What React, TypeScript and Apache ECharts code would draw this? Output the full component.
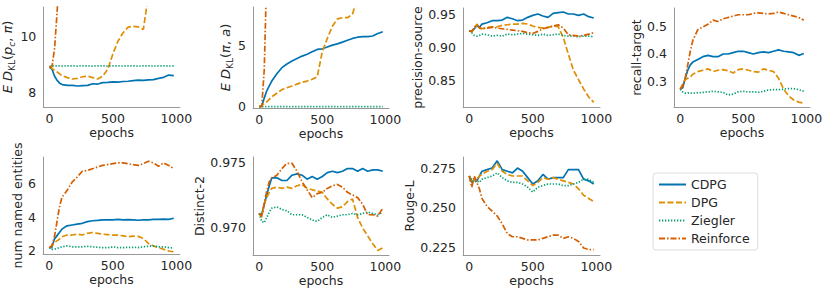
import React, { useEffect, useRef } from "react";
import * as echarts from "echarts";

const epochs = [0, 20, 40, 60, 80, 100, 140, 180, 220, 260, 300, 340, 380, 420, 460, 500, 540, 580, 620, 660, 700, 740, 780, 820, 860, 900, 940, 980];
const xTicks = [0, 500, 1000];

// E D_KL(p_c, pi)
const kl1Cdpg = [8.92, 8.85, 8.6, 8.45, 8.35, 8.3, 8.27, 8.27, 8.25, 8.26, 8.27, 8.33, 8.32, 8.37, 8.38, 8.4, 8.39, 8.41, 8.42, 8.44, 8.46, 8.45, 8.47, 8.48, 8.52, 8.56, 8.64, 8.62];
const kl1Dpg = [8.92, 8.88, 8.8, 8.75, 8.68, 8.62, 8.55, 8.5, 8.52, 8.58, 8.6, 8.55, 8.5, 8.6, 8.85, 9.4, 9.85, 10.15, 10.35, 10.38, 10.36, 10.27, 11.5, 12.5, null, null, null, null];
const kl1Zieg = [8.95, 8.97, 8.96, 8.97, 8.97, 8.96, 8.97, 8.97, 8.96, 8.97, 8.97, 8.96, 8.97, 8.97, 8.96, 8.97, 8.97, 8.96, 8.97, 8.97, 8.96, 8.97, 8.97, 8.96, 8.97, 8.97, 8.96, 8.97];
const kl1Rein = [8.92, 8.95, 9.6, 10.9, 12.5, null, null, null, null, null, null, null, null, null, null, null, null, null, null, null, null, null, null, null, null, null, null, null];

// E D_KL(pi, a)
const kl2Cdpg = [0, 0.05, 0.7, 1.3, 1.7, 2.1, 2.7, 3.2, 3.5, 3.75, 3.95, 4.15, 4.3, 4.5, 4.7, 4.75, 4.9, 5.05, 5.15, 5.3, 5.45, 5.6, 5.7, 5.75, 5.75, 5.8, 6.0, 6.15];
const kl2Dpg = [0, 0.05, 0.3, 0.4, 0.6, 0.8, 1.1, 1.4, 1.55, 1.7, 1.85, 2.0, 2.1, 2.25, 2.45, 4.5, 5.6, 6.6, 7.2, 7.3, 7.3, 7.6, 9.0, null, null, null, null, null];
const kl2Zieg = [0, 0, 0, 0, 0, 0, 0, 0, 0, 0, 0, 0, 0, 0, 0, 0, 0, 0, 0, 0, 0, 0, 0, 0, 0, 0, 0, 0];
const kl2Rein = [0, 0, 3.0, 11, null, null, null, null, null, null, null, null, null, null, null, null, null, null, null, null, null, null, null, null, null, null, null, null];

// precision-source
const psCdpg = [0.925, 0.924, 0.928, 0.933, 0.93, 0.935, 0.937, 0.94, 0.94, 0.941, 0.945, 0.943, 0.94, 0.941, 0.945, 0.948, 0.95, 0.947, 0.945, 0.951, 0.952, 0.953, 0.95, 0.95, 0.948, 0.95, 0.946, 0.944];
const psDpg = [0.925, 0.923, 0.928, 0.935, 0.93, 0.928, 0.93, 0.931, 0.931, 0.933, 0.934, 0.935, 0.935, 0.936, 0.935, 0.932, 0.93, 0.929, 0.93, 0.932, 0.931, 0.915, 0.89, 0.866, 0.852, 0.838, 0.826, 0.818];
const psZieg = [0.925, 0.922, 0.918, 0.917, 0.918, 0.92, 0.919, 0.917, 0.918, 0.917, 0.92, 0.919, 0.92, 0.921, 0.92, 0.919, 0.918, 0.92, 0.918, 0.919, 0.92, 0.918, 0.917, 0.917, 0.916, 0.917, 0.917, 0.916];
const psRein = [0.925, 0.924, 0.93, 0.934, 0.929, 0.928, 0.929, 0.93, 0.929, 0.928, 0.927, 0.926, 0.925, 0.924, 0.922, 0.921, 0.924, 0.928, 0.93, 0.932, 0.934, 0.929, 0.919, 0.918, 0.917, 0.918, 0.92, 0.922];

// recall-target
const rtCdpg = [0.27, 0.275, 0.31, 0.34, 0.36, 0.37, 0.38, 0.39, 0.395, 0.39, 0.39, 0.4, 0.4, 0.405, 0.41, 0.41, 0.405, 0.4, 0.405, 0.408, 0.405, 0.41, 0.415, 0.41, 0.408, 0.405, 0.395, 0.402];
const rtDpg = [0.27, 0.29, 0.305, 0.31, 0.315, 0.325, 0.335, 0.34, 0.345, 0.335, 0.34, 0.342, 0.338, 0.33, 0.342, 0.345, 0.34, 0.335, 0.333, 0.345, 0.34, 0.335, 0.31, 0.27, 0.245, 0.23, 0.222, 0.218];
const rtZieg = [0.27, 0.26, 0.255, 0.256, 0.255, 0.255, 0.257, 0.258, 0.26, 0.262, 0.26, 0.258, 0.248, 0.252, 0.26, 0.262, 0.26, 0.26, 0.258, 0.262, 0.267, 0.268, 0.268, 0.27, 0.272, 0.272, 0.268, 0.262];
const rtRein = [0.27, 0.28, 0.31, 0.36, 0.41, 0.45, 0.49, 0.5, 0.51, 0.525, 0.52, 0.53, 0.535, 0.54, 0.545, 0.545, 0.545, 0.55, 0.552, 0.55, 0.548, 0.55, 0.555, 0.55, 0.545, 0.54, 0.535, 0.525];

// num named entities
const neCdpg = [2.2, 2.2, 2.7, 2.9, 3.1, 3.3, 3.5, 3.55, 3.6, 3.65, 3.75, 3.8, 3.82, 3.85, 3.85, 3.85, 3.88, 3.85, 3.87, 3.85, 3.83, 3.85, 3.85, 3.88, 3.88, 3.9, 3.88, 3.95];
const neDpg = [2.2, 2.3, 2.5, 2.6, 2.7, 2.85, 2.95, 2.95, 3.0, 2.95, 3.05, 3.1, 3.05, 3.0, 2.98, 2.95, 2.95, 2.9, 2.85, 2.88, 2.87, 2.75, 2.45, 2.3, 2.2, 2.1, 2.0, 1.95];
const neZieg = [2.2, 2.1, 2.1, 2.15, 2.2, 2.25, 2.3, 2.25, 2.25, 2.25, 2.28, 2.25, 2.22, 2.2, 2.2, 2.25, 2.2, 2.2, 2.22, 2.22, 2.2, 2.25, 2.28, 2.3, 2.25, 2.25, 2.2, 2.18];
const neRein = [2.2, 2.3, 2.8, 3.7, 4.6, 5.2, 5.6, 6.1, 6.4, 6.75, 6.8, 6.9, 7.0, 7.1, 7.15, 7.2, 7.25, 7.25, 7.2, 7.15, 7.1, 7.2, 7.35, 7.25, 7.05, 7.25, 7.1, 6.9];

// Distinct-2
const d2Cdpg = [0.9711, 0.971, 0.9718, 0.9725, 0.9732, 0.9738, 0.9738, 0.9736, 0.9736, 0.974, 0.9741, 0.974, 0.9737, 0.9739, 0.9737, 0.9739, 0.9742, 0.9743, 0.9742, 0.9743, 0.9745, 0.9745, 0.9743, 0.9745, 0.9743, 0.9744, 0.9744, 0.9743];
const d2Dpg = [0.9711, 0.9708, 0.9718, 0.9723, 0.9727, 0.973, 0.9731, 0.973, 0.9731, 0.973, 0.9732, 0.9733, 0.973, 0.9729, 0.9728, 0.9727, 0.9722, 0.9718, 0.9715, 0.9716, 0.972, 0.9722, 0.9708, 0.97, 0.9694, 0.9688, 0.9683, 0.9685];
const d2Zieg = [0.9711, 0.9705, 0.9704, 0.9708, 0.9712, 0.9715, 0.9716, 0.9714, 0.9713, 0.971, 0.971, 0.971, 0.9708, 0.9706, 0.9705, 0.9708, 0.971, 0.9708, 0.9709, 0.971, 0.971, 0.9711, 0.971, 0.9711, 0.9712, 0.9711, 0.971, 0.9712];
const d2Rein = [0.9711, 0.9709, 0.9718, 0.9728, 0.9735, 0.9738, 0.974, 0.9745, 0.9749, 0.9749, 0.9743, 0.9735, 0.9729, 0.9723, 0.9726, 0.9727, 0.973, 0.9732, 0.9733, 0.9731, 0.9727, 0.9725, 0.9723, 0.9718, 0.971, 0.971, 0.9709, 0.9715];

// Rouge-L
const rlCdpg = [0.27, 0.266, 0.268, 0.267, 0.27, 0.273, 0.274, 0.275, 0.2795, 0.274, 0.273, 0.272, 0.275, 0.273, 0.269, 0.265, 0.267, 0.271, 0.268, 0.269, 0.269, 0.269, 0.274, 0.274, 0.274, 0.268, 0.267, 0.265];
const rlDpg = [0.27, 0.265, 0.268, 0.268, 0.27, 0.271, 0.273, 0.274, 0.278, 0.273, 0.271, 0.27, 0.27, 0.27, 0.267, 0.264, 0.266, 0.269, 0.268, 0.269, 0.268, 0.267, 0.266, 0.265, 0.262, 0.258, 0.256, 0.254];
const rlZieg = [0.27, 0.268, 0.266, 0.267, 0.266, 0.268, 0.269, 0.27, 0.272, 0.269, 0.267, 0.266, 0.266, 0.265, 0.263, 0.26, 0.263, 0.264, 0.265, 0.265, 0.265, 0.264, 0.264, 0.265, 0.266, 0.268, 0.268, 0.266];
const rlRein = [0.27, 0.263, 0.27, 0.266, 0.262, 0.256, 0.251, 0.248, 0.245, 0.24, 0.234, 0.232, 0.232, 0.231, 0.23, 0.23, 0.23, 0.231, 0.232, 0.233, 0.233, 0.231, 0.232, 0.231, 0.229, 0.225, 0.224, 0.224];

const methods = ["CDPG", "DPG", "Ziegler", "Reinforce"];

const FONT = "DejaVu Sans";
const TXT = "#262626";
const COLORS: Record<string, string> = { CDPG: "#0173B2", DPG: "#DE8F05", Ziegler: "#029E73", Reinforce: "#D55E00" };
const DASH: Record<string, any> = { CDPG: "solid", DPG: [6, 2.5], Ziegler: [1.3, 1.7], Reinforce: [6, 2, 1.5, 2] };

type Panel = {
  rect: [number, number, number, number];
  name: string;
  rich?: boolean;
  nameGap: number;
  min: number;
  max: number;
  ticks: number[];
  digits: number;
  series: (number | null)[][];
};

const panels: Panel[] = [
  { rect: [43, 7, 137, 100], name: "{i|E} {i|D}{s|KL}{n|(}{i|p}{si|c}{n|, }{i|π}{n|)}", rich: true, nameGap: 22, min: 7.5, max: 11.07, ticks: [8, 10], digits: 0, series: [kl1Cdpg, kl1Dpg, kl1Zieg, kl1Rein] },
  { rect: [253, 7, 136, 101], name: "{i|E} {i|D}{s|KL}{n|(}{i|π}{n|, }{i|a}{n|)}", rich: true, nameGap: 13, min: -0.11, max: 8.18, ticks: [0, 5], digits: 0, series: [kl2Cdpg, kl2Dpg, kl2Zieg, kl2Rein] },
  { rect: [463, 8, 137, 99], name: "precision-source", nameGap: 33, min: 0.811, max: 0.959, ticks: [0.85, 0.9, 0.95], digits: 2, series: [psCdpg, psDpg, psZieg, psRein] },
  { rect: [674, 8, 136, 99], name: "recall-target", nameGap: 27, min: 0.204, max: 0.57, ticks: [0.3, 0.4, 0.5], digits: 1, series: [rtCdpg, rtDpg, rtZieg, rtRein] },
  { rect: [43, 157, 137, 97], name: "num named entities", nameGap: 13, min: 1.82, max: 7.6, ticks: [2, 4, 6], digits: 0, series: [neCdpg, neDpg, neZieg, neRein] },
  { rect: [253, 157, 136, 98], name: "Distinct-2", nameGap: 39, min: 0.96795, max: 0.97538, ticks: [0.97, 0.975], digits: 3, series: [d2Cdpg, d2Dpg, d2Zieg, d2Rein] },
  { rect: [463, 157, 137, 98], name: "Rouge-L", nameGap: 43, min: 0.2206, max: 0.2819, ticks: [0.225, 0.25, 0.275], digits: 3, series: [rlCdpg, rlDpg, rlZieg, rlRein] },
];

const FS = 12.5;
const spine = { show: true, onZero: false, lineStyle: { color: "#999", width: 1 } };

export default function App() {
  const ref = useRef<HTMLDivElement>(null);
  useEffect(() => {
    if (!ref.current) return;
    const chart = echarts.init(ref.current, null, { renderer: "svg" });
    const grid = panels.map((p) => ({ left: p.rect[0], top: p.rect[1], width: p.rect[2], height: p.rect[3], containLabel: false }));
    const xAxis = panels.map((p, gi) => ({
      type: "value",
      gridIndex: gi,
      min: -49,
      max: 1029,
      axisLine: spine,
      axisTick: { show: false },
      splitLine: { show: false },
      axisLabel: { customValues: xTicks, formatter: (v: number) => String(v), color: TXT, fontSize: FS, fontFamily: FONT, margin: 5 },
      name: "epochs",
      nameLocation: "middle",
      nameGap: 17,
      nameTextStyle: { color: TXT, fontSize: FS, fontFamily: FONT },
    }));
    const rich = {
      i: { fontStyle: "italic", fontSize: 13, fontFamily: FONT, color: TXT, lineHeight: 18, verticalAlign: "middle" },
      n: { fontSize: 13, fontFamily: FONT, color: TXT, lineHeight: 18, verticalAlign: "middle" },
      s: { fontSize: 9, fontFamily: FONT, color: TXT, lineHeight: 18, verticalAlign: "bottom" },
      si: { fontSize: 9, fontStyle: "italic", fontFamily: FONT, color: TXT, lineHeight: 18, verticalAlign: "bottom" },
    };
    const yAxis = panels.map((p, gi) => ({
      type: "value",
      gridIndex: gi,
      min: p.min,
      max: p.max,
      axisLine: spine,
      axisTick: { show: false },
      splitLine: { show: false },
      axisLabel: {
        customValues: p.ticks,
        formatter: (v: number) => v.toFixed(p.digits),
        color: TXT,
        fontSize: FS,
        fontFamily: FONT,
        margin: 7,
      },
      name: p.name,
      nameLocation: "middle",
      nameRotate: 90,
      nameGap: p.nameGap,
      nameTextStyle: p.rich
        ? { color: TXT, fontSize: 13, fontFamily: FONT, rich }
        : { color: TXT, fontSize: FS, fontFamily: FONT },
    }));
    const series: any[] = [];
    panels.forEach((p, gi) => {
      p.series.forEach((vals, k) => {
        const m = methods[k];
        series.push({
          name: m,
          type: "line",
          xAxisIndex: gi,
          yAxisIndex: gi,
          data: epochs.map((e, i) => [e, vals[i]]),
          showSymbol: false,
          symbol: "none",
          clip: true,
          silent: true,
          connectNulls: false,
          color: COLORS[m],
          lineStyle: { color: COLORS[m], width: 1.7, type: DASH[m] },
        });
      });
    });
    chart.setOption({
      animation: false,
      backgroundColor: "#fff",
      grid,
      xAxis,
      yAxis,
      series,
      legend: {
        data: methods,
        orient: "vertical",
        left: 653,
        top: 173,
        itemWidth: 27,
        itemHeight: 14,
        itemGap: 5,
        padding: [5, 8, 5, 5],
        borderColor: "#ddd",
        borderWidth: 1,
        borderRadius: 3,
        itemStyle: { opacity: 0 },
        textStyle: { color: TXT, fontSize: FS, fontFamily: FONT },
      },
    });
    return () => chart.dispose();
  }, []);
  return <div ref={ref} style={{ position: "fixed", left: 0, top: 0, width: 830, height: 291 }} />;
}
